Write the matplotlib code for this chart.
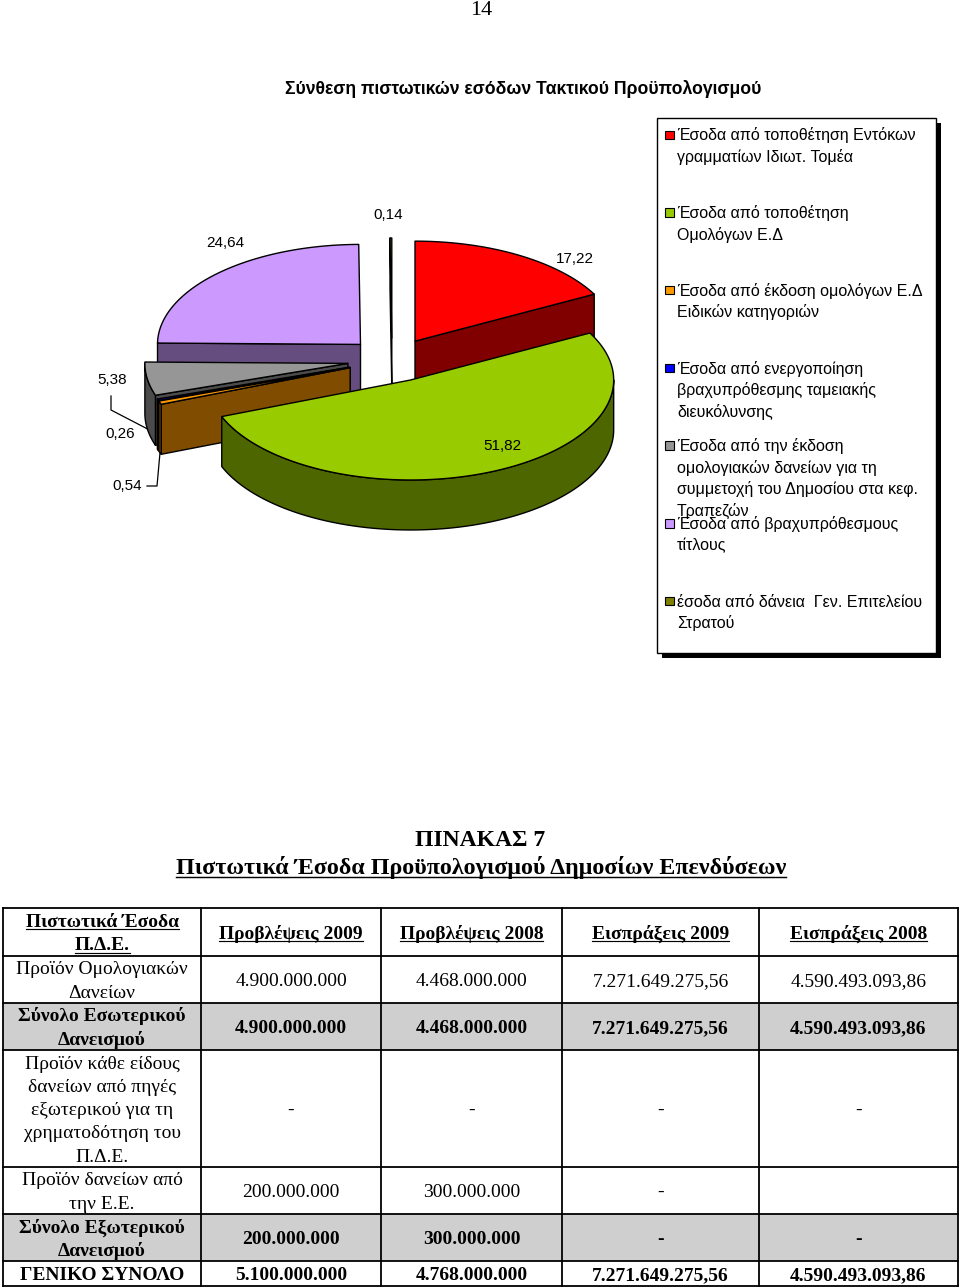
import numpy as np
import matplotlib.pyplot as plt
from matplotlib.patches import Polygon, Rectangle
from matplotlib.colors import to_rgb

SANS = ['Liberation Sans', 'DejaVu Sans']
SERIF = ['Liberation Serif', 'DejaVu Serif']
plt.rcParams['font.family'] = SANS

# ---------------- δεδομένα πίτας ----------------
page_number = "14"
pie_title = "Σύνθεση πιστωτικών εσόδων Τακτικού Προϋπολογισμού"
pie_labels = [
    "Έσοδα από τοποθέτηση Εντόκων\nγραμματίων Ιδιωτ. Τομέα",
    "Έσοδα από τοποθέτηση\nΟμολόγων Ε.Δ",
    "Έσοδα από έκδοση ομολόγων Ε.Δ\nΕιδικών κατηγοριών",
    "Έσοδα από ενεργοποίηση\nβραχυπρόθεσμης ταμειακής\nδιευκόλυνσης",
    "Έσοδα από την έκδοση\nομολογιακών δανείων για τη\nσυμμετοχή του Δημοσίου στα κεφ.\nΤραπεζών",
    "Έσοδα από βραχυπρόθεσμους\nτίτλους",
    "έσοδα από δάνεια  Γεν. Επιτελείου\nΣτρατού",
]
pie_values = [17.22, 51.82, 0.54, 0.26, 5.38, 24.64, 0.14]

# ---------------- δεδομένα πίνακα ----------------
table_title = "ΠΙΝΑΚΑΣ 7"
table_subtitle = "Πιστωτικά Έσοδα Προϋπολογισμού Δημοσίων Επενδύσεων"
first_header = "Πιστωτικά Έσοδα\nΠ.Δ.Ε."
col_headers = ["Προβλέψεις 2009", "Προβλέψεις 2008", "Εισπράξεις 2009", "Εισπράξεις 2008"]
row_labels = [
    "Προϊόν Ομολογιακών\nΔανείων",
    "Σύνολο Εσωτερικού\nΔανεισμού",
    "Προϊόν κάθε είδους\nδανείων από πηγές\nεξωτερικού για τη\nχρηματοδότηση του\nΠ.Δ.Ε.",
    "Προϊόν δανείων από\nτην Ε.Ε.",
    "Σύνολο Εξωτερικού\nΔανεισμού",
    "ΓΕΝΙΚΟ ΣΥΝΟΛΟ",
]
prov_2009 = ["4.900.000.000", "4.900.000.000", "-", "200.000.000", "200.000.000", "5.100.000.000"]
prov_2008 = ["4.468.000.000", "4.468.000.000", "-", "300.000.000", "300.000.000", "4.768.000.000"]
eisp_2009 = ["7.271.649.275,56", "7.271.649.275,56", "-", "-", "-", "7.271.649.275,56"]
eisp_2008 = ["4.590.493.093,86", "4.590.493.093,86", "-", "", "-", "4.590.493.093,86"]

# ---------------- στυλ / διάταξη ----------------
pie_colors = ["#FF0000", "#99CC00", "#FF9900", "#0000FF", "#969696", "#CC99FF", "#808000"]
label_pos = [(575, 259), (502, 446), (127, 486), (120, 434), (112, 380), (225, 243), (388, 215)]
leaders = {4: [(111, 396), (111, 410)], 2: [(147, 486), (157, 486)]}
bold_rows = [False, True, False, False, True, True]
gray_rows = [False, True, False, False, True, False]
col_x = [3, 201, 381, 562, 759, 958]
row_y = [908, 956, 1003, 1050, 1167, 1214, 1261, 1286]

PIE_CX, PIE_CY = 392, 360
RX, RY, DEPTH = 203, 100, 50
EXPLODE = 0.22

fig = plt.figure(figsize=(9.6, 12.88), dpi=100)
ax = fig.add_axes([0, 0, 1, 1])
ax.set_xlim(0, 960)
ax.set_ylim(1288, 0)
ax.axis('off')

PX = 100 / 72.0  # px ανά pt
underlined = []


def put_lines(x, yc, s, size, step, family, bold=False, ha='center', underline=False):
    # κάθε γραμμή ξεχωριστά, με κέντρο κειμένου στο yc
    lines = s.split('\n')
    y0 = yc - step * (len(lines) - 1) / 2
    for k, ln in enumerate(lines):
        base = y0 + k * step + 0.34 * size * PX
        t = ax.text(x, base, ln, fontsize=size, family=family, ha=ha, va='baseline',
                    fontweight='bold' if bold else 'normal')
        if underline:
            underlined.append((t, base + 0.12 * size * PX, size))


def darken(c, f=0.5):
    r, g, b = to_rgb(c)
    return (r * f, g * f, b * f)


def rim(x0, y0, t):
    a = np.radians(t)
    return x0 + RX * np.sin(a), y0 - RY * np.cos(a)


# σελίδα και τίτλος
ax.text(481, 10, page_number, fontsize=16, family=SERIF, ha='center', va='center')
ax.text(523, 89, pie_title, fontsize=12.7, fontweight='bold', ha='center', va='center')

# ---------------- 3Δ πίτα ----------------
angles = np.concatenate([[0], np.cumsum(pie_values)]) / sum(pie_values) * 360
mids = (angles[:-1] + angles[1:]) / 2
order = sorted(range(len(pie_values)), key=lambda i: -np.cos(np.radians(mids[i])))
ek = dict(edgecolor='black', linewidth=1.0, joinstyle='round')
apex = {}
for i in order:
    t1, t2, tm = angles[i], angles[i + 1], mids[i]
    ox, oy = rim(0, 0, tm)
    x0, y0 = PIE_CX + ox * EXPLODE, PIE_CY + oy * EXPLODE
    apex[i] = (x0, y0)
    top, side = pie_colors[i], darken(pie_colors[i])
    for t, vis in ((t1, 180 < t1 < 360), (t2, 0 < t2 < 180)):
        if vis:
            rx_, ry_ = rim(x0, y0, t)
            ax.add_patch(Polygon([(x0, y0), (rx_, ry_), (rx_, ry_ + DEPTH), (x0, y0 + DEPTH)],
                                 facecolor=side, **ek))
    lo, hi = max(t1, 90), min(t2, 270)
    if hi > lo:
        ts = np.linspace(lo, hi, 80)
        xs, ys = rim(x0, y0, ts)
        ax.add_patch(Polygon(np.column_stack([np.r_[xs, xs[::-1]], np.r_[ys, ys[::-1] + DEPTH]]),
                             facecolor=side, **ek))
    ts = np.linspace(t1, t2, max(3, int((t2 - t1) * 2)))
    xs, ys = rim(x0, y0, ts)
    ax.add_patch(Polygon(np.column_stack([np.r_[x0, xs], np.r_[y0, ys]]), facecolor=top, **ek))

# ετικέτες τιμών
for i, v in enumerate(pie_values):
    lx, ly = label_pos[i]
    ax.text(lx, ly, f"{v:.2f}".replace('.', ','), fontsize=11, ha='center', va='center')
    if i in leaders:
        ex, ey = rim(apex[i][0], apex[i][1], mids[i])
        pts = leaders[i] + [(ex, ey + DEPTH)]
        ax.plot([p[0] for p in pts], [p[1] for p in pts], color='black', lw=0.9)

# ---------------- υπόμνημα ----------------
LX, LY, LW, LH = 657, 118, 279, 535
ax.add_patch(Rectangle((LX + 5, LY + 5), LW, LH, facecolor='black', edgecolor='none'))
ax.add_patch(Rectangle((LX, LY), LW, LH, facecolor='white', edgecolor='black', linewidth=1.0))
for k, lab in enumerate(pie_labels):
    yc = 135 + 77.7 * k
    ax.add_patch(Rectangle((665, yc - 4.5), 8.5, 8.5, facecolor=pie_colors[k], edgecolor='black', linewidth=0.8))
    for j, ln in enumerate(lab.split('\n')):
        ax.text(677, yc + 21.6 * j + 5.4, ln, fontsize=11.5, ha='left', va='baseline')

# ---------------- πίνακας ----------------
put_lines(480, 838, table_title, 17, 0, SERIF, bold=True)
put_lines(481, 866, table_subtitle, 17.3, 0, SERIF, bold=True, underline=True)

for r in range(len(row_labels)):
    if gray_rows[r]:
        ax.add_patch(Rectangle((col_x[0], row_y[r + 1]), col_x[-1] - col_x[0],
                               row_y[r + 2] - row_y[r + 1], facecolor='#cfcfcf', edgecolor='none'))
for yv in row_y:
    ax.plot([col_x[0], col_x[-1]], [yv, yv], color='black', lw=1.3)
for xv in col_x:
    ax.plot([xv, xv], [row_y[0], row_y[-1]], color='black', lw=1.3)

TS = 14
STEP = 23.3
ccs = [(col_x[c] + col_x[c + 1]) / 2 for c in range(len(col_x) - 1)]
rcs = [(row_y[r] + row_y[r + 1]) / 2 for r in range(len(row_y) - 1)]
put_lines(ccs[0], rcs[0], first_header, TS, STEP, SERIF, bold=True, underline=True)
for c, h in enumerate(col_headers):
    put_lines(ccs[c + 1], rcs[0], h, TS, STEP, SERIF, bold=True, underline=True)
columns = [prov_2009, prov_2008, eisp_2009, eisp_2008]
for r, lab in enumerate(row_labels):
    put_lines(ccs[0], rcs[r + 1], lab, TS, STEP, SERIF, bold=bold_rows[r])
    for c, col in enumerate(columns):
        if col[r]:
            put_lines(ccs[c + 1], rcs[r + 1], col[r], TS, STEP, SERIF, bold=bold_rows[r])

# υπογραμμίσεις
fig.canvas.draw()
rend = fig.canvas.get_renderer()
inv = ax.transData.inverted()
for t, yu, size in underlined:
    bb = t.get_window_extent(rend)
    xa = inv.transform((bb.x0, 0))[0]
    xb = inv.transform((bb.x1, 0))[0]
    ax.plot([xa, xb], [yu, yu], color='black', lw=max(0.8, size * 0.06))

fig.savefig("out.png", dpi=100)
